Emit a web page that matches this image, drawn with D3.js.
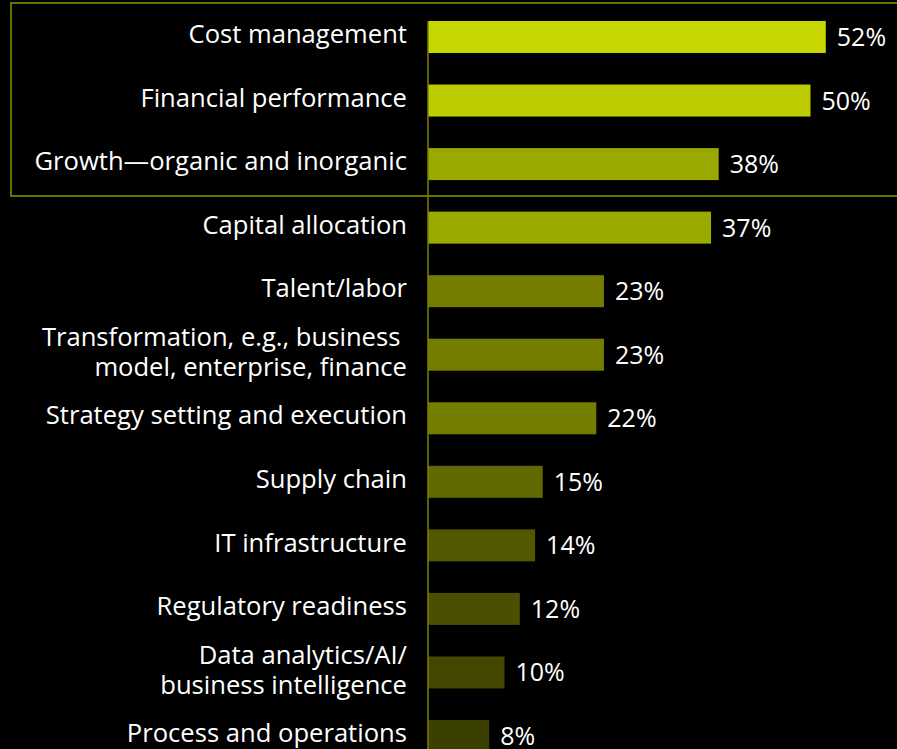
<!DOCTYPE html>
<html>
<head>
<meta charset="utf-8">
<script src="https://cdn.jsdelivr.net/npm/d3@7/dist/d3.min.js"></script>
<style>
  html, body { margin: 0; padding: 0; background: #000; }
  svg { display: block; }
  text { font-family: "Open Sans", "Noto Sans", sans-serif; fill: #fff; }
</style>
</head>
<body>
<svg id="chart" width="897" height="749"></svg>
<script>
// Priority areas, share of respondents (%)
const categories = [
  ["Cost management"],
  ["Financial performance"],
  ["Growth\u2014organic and inorganic"],
  ["Capital allocation"],
  ["Talent/labor"],
  ["Transformation, e.g., business ", "model, enterprise, finance"],
  ["Strategy setting and execution"],
  ["Supply chain"],
  ["IT infrastructure"],
  ["Regulatory readiness"],
  ["Data analytics/AI/", "business intelligence"],
  ["Process and operations"]
];
const values = [52, 50, 38, 37, 23, 23, 22, 15, 14, 12, 10, 8];
const barColors = [
  "#c5d600", "#bccc00", "#9aa800", "#9aaa00",
  "#757d00", "#757d00", "#757d00", "#626800",
  "#525800", "#4b5000", "#434700", "#3b3f00"
];
const valueLabels = values.map(v => v + "%");

const W = 897, H = 749;
const svg = d3.select("#chart");

const keys = categories.map(c => c.join(" "));
const x = d3.scaleLinear().domain([0, 60]).range([428, 428 + 459]);
const y = d3.scaleBand()
  .domain(keys)
  .range([5.1, 767.9])
  .paddingInner(0.4965)
  .paddingOuter(0.25);

// Highlight frame around the top three items
svg.append("rect")
  .attr("x", 11).attr("y", 3)
  .attr("width", W + 20).attr("height", 193)
  .attr("fill", "none")
  .attr("stroke", "#6b7000")
  .attr("stroke-width", 2);

// Bars
svg.append("g").selectAll("rect")
  .data(values)
  .join("rect")
  .attr("x", x(0))
  .attr("y", (d, i) => y(keys[i]))
  .attr("width", d => x(d) - x(0))
  .attr("height", y.bandwidth())
  .attr("fill", (d, i) => barColors[i]);

// Baseline
svg.append("line")
  .attr("x1", x(0)).attr("x2", x(0))
  .attr("y1", y(keys[0])).attr("y2", H)
  .attr("stroke", "#7a8200")
  .attr("stroke-width", 1.5);

// Value labels
svg.append("g").selectAll("text")
  .data(values)
  .join("text")
  .attr("x", d => x(d) + 11)
  .attr("y", (d, i) => y(keys[i]) + y.bandwidth() / 2)
  .attr("dy", "0.36em")
  .attr("font-size", 25)
  .text((d, i) => valueLabels[i]);

// Category labels
const lineH = 30;
const cat = svg.append("g").selectAll("text")
  .data(categories)
  .join("text")
  .attr("text-anchor", "end")
  .attr("font-size", 25.6)
  .attr("y", (d, i) => y(keys[i]) + y.bandwidth() / 2 - 3 - (d.length - 1) * lineH / 2);
cat.selectAll("tspan")
  .data(d => d)
  .join("tspan")
  .attr("x", 407)
  .attr("dy", (d, j) => j === 0 ? "0.36em" : lineH)
  .text(d => d);
</script>
</body>
</html>
